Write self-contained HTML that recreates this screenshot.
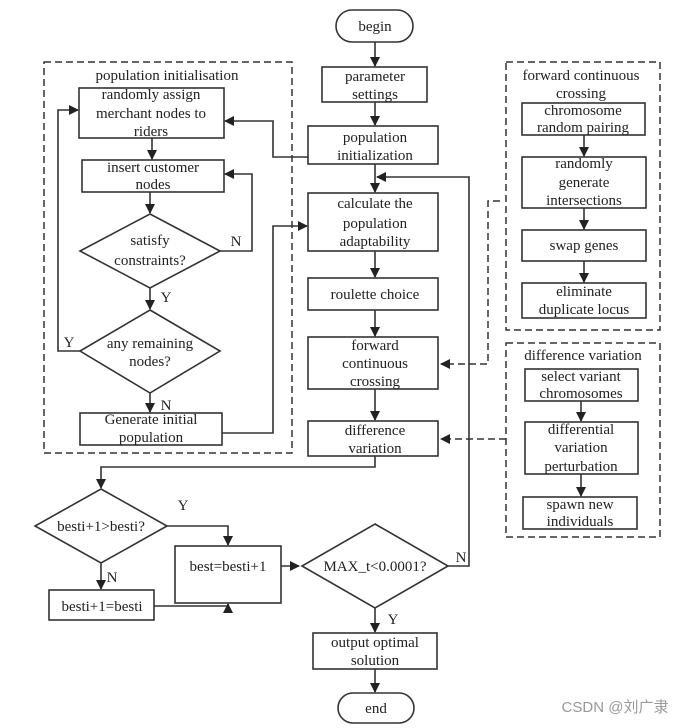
<!DOCTYPE html>
<html><head><meta charset="utf-8"><style>
html,body{margin:0;padding:0;background:#fff;}
svg{display:block;}
text{font-family:"Liberation Serif",serif;font-size:15px;fill:#222;text-anchor:middle;}
.b{fill:#fff;stroke:#333;stroke-width:1.6;}
.l{fill:none;stroke:#333;stroke-width:1.6;}
.d{fill:none;stroke:#333;stroke-width:1.5;stroke-dasharray:7,4;}
</style></head><body>
<svg width="699" height="728" viewBox="0 0 699 728">
<defs><marker id="a" markerWidth="10" markerHeight="10" refX="9" refY="5" orient="auto" markerUnits="userSpaceOnUse"><path d="M0,0 L10,5 L0,10 Z" fill="#222"/></marker></defs>

<!-- main column -->
<rect class="b" x="336" y="10" width="77" height="32" rx="16"/><text x="375" y="31">begin</text>
<rect class="b" x="322" y="67" width="105" height="35"/><text x="375" y="81">parameter</text><text x="375" y="99">settings</text>
<rect class="b" x="308" y="126" width="130" height="38"/><text x="375" y="142">population</text><text x="375" y="160">initialization</text>
<rect class="b" x="308" y="193" width="130" height="58"/><text x="375" y="208">calculate the</text><text x="375" y="228">population</text><text x="375" y="246">adaptability</text>
<rect class="b" x="308" y="278" width="130" height="32"/><text x="375" y="299">roulette choice</text>
<rect class="b" x="308" y="337" width="130" height="52"/><text x="375" y="350">forward</text><text x="375" y="368">continuous</text><text x="375" y="386">crossing</text>
<rect class="b" x="308" y="421" width="130" height="35"/><text x="375" y="435">difference</text><text x="375" y="453">variation</text>

<line class="l" x1="375" y1="42" x2="375" y2="66" marker-end="url(#a)"/>
<line class="l" x1="375" y1="102" x2="375" y2="125" marker-end="url(#a)"/>
<line class="l" x1="375" y1="164" x2="375" y2="192" marker-end="url(#a)"/>
<line class="l" x1="375" y1="251" x2="375" y2="277" marker-end="url(#a)"/>
<line class="l" x1="375" y1="310" x2="375" y2="336" marker-end="url(#a)"/>
<line class="l" x1="375" y1="389" x2="375" y2="420" marker-end="url(#a)"/>
<polyline class="l" points="448,566 469,566 469,177 377,177" marker-end="url(#a)"/>

<!-- left dashed box -->
<rect class="d" x="44" y="62" width="248" height="391"/>
<text x="167" y="80">population initialisation</text>
<rect class="b" x="79" y="88" width="145" height="50"/><text x="151" y="99">randomly assign</text><text x="151" y="118">merchant nodes to</text><text x="151" y="136">riders</text>
<rect class="b" x="82" y="160" width="142" height="32"/><text x="153" y="172">insert customer</text><text x="153" y="189">nodes</text>
<polygon class="b" points="150,214 220,251 150,288 80,251"/><text x="150" y="245">satisfy</text><text x="150" y="265">constraints?</text>
<polygon class="b" points="150,310 220,351 150,393 80,351"/><text x="150" y="348">any  remaining</text><text x="150" y="366">nodes?</text>
<rect class="b" x="80" y="413" width="142" height="32"/><text x="151" y="424">Generate initial</text><text x="151" y="442">population</text>
<line class="l" x1="152" y1="138" x2="152" y2="159" marker-end="url(#a)"/>
<line class="l" x1="150" y1="192" x2="150" y2="213" marker-end="url(#a)"/>
<line class="l" x1="150" y1="288" x2="150" y2="309" marker-end="url(#a)"/>
<line class="l" x1="150" y1="393" x2="150" y2="412" marker-end="url(#a)"/>
<polyline class="l" points="220,251 252,251 252,174 225,174" marker-end="url(#a)"/>
<polyline class="l" points="80,351 58,351 58,110 78,110" marker-end="url(#a)"/>
<polyline class="l" points="308,157 273,157 273,121 225,121" marker-end="url(#a)"/>
<polyline class="l" points="222,433 273,433 273,226 307,226" marker-end="url(#a)"/>
<text x="236" y="246">N</text><text x="166" y="302">Y</text><text x="69" y="347">Y</text><text x="166" y="410">N</text>

<!-- right dashed box 1 -->
<rect class="d" x="506" y="62" width="154" height="268"/>
<text x="581" y="80">forward continuous</text><text x="581" y="98">crossing</text>
<rect class="b" x="522" y="103" width="123" height="32"/><text x="583" y="115">chromosome</text><text x="583" y="132">random pairing</text>
<rect class="b" x="522" y="157" width="124" height="51"/><text x="584" y="168">randomly</text><text x="584" y="187">generate</text><text x="584" y="205">intersections</text>
<rect class="b" x="522" y="230" width="124" height="31"/><text x="584" y="250">swap genes</text>
<rect class="b" x="522" y="283" width="124" height="35"/><text x="584" y="296">eliminate</text><text x="584" y="314">duplicate locus</text>
<line class="l" x1="584" y1="135" x2="584" y2="156" marker-end="url(#a)"/>
<line class="l" x1="584" y1="208" x2="584" y2="229" marker-end="url(#a)"/>
<line class="l" x1="584" y1="261" x2="584" y2="282" marker-end="url(#a)"/>
<polyline class="d" points="500,201 488,201 488,364 441,364" marker-end="url(#a)"/>

<!-- right dashed box 2 -->
<rect class="d" x="506" y="343" width="154" height="194"/>
<text x="583" y="360">difference variation</text>
<rect class="b" x="525" y="369" width="113" height="32"/><text x="581" y="381">select variant</text><text x="581" y="398">chromosomes</text>
<rect class="b" x="525" y="422" width="113" height="52"/><text x="581" y="434">differential</text><text x="581" y="452">variation</text><text x="581" y="471">perturbation</text>
<rect class="b" x="523" y="497" width="114" height="32"/><text x="580" y="509">spawn new</text><text x="580" y="526">individuals</text>
<line class="l" x1="581" y1="401" x2="581" y2="421" marker-end="url(#a)"/>
<line class="l" x1="581" y1="474" x2="581" y2="496" marker-end="url(#a)"/>
<polyline class="d" points="506,439 441,439" marker-end="url(#a)"/>

<!-- bottom -->
<polyline class="l" points="375,456 375,467 101,467 101,488" marker-end="url(#a)"/>
<polygon class="b" points="101,489 167,526 101,563 35,526"/><text x="101" y="531">besti+1&gt;besti?</text>
<text x="183" y="510">Y</text>
<polyline class="l" points="167,526 228,526 228,545" marker-end="url(#a)"/>
<rect class="b" x="175" y="546" width="106" height="57"/><text x="228" y="571">best=besti+1</text>
<line class="l" x1="101" y1="563" x2="101" y2="589" marker-end="url(#a)"/>
<text x="112" y="582">N</text>
<rect class="b" x="49" y="590" width="105" height="30"/><text x="102" y="611">besti+1=besti</text>
<polyline class="l" points="154,606 228,606 228,604" />
<line class="l" x1="228" y1="606" x2="228" y2="604" marker-end="url(#a)"/>
<line class="l" x1="281" y1="566" x2="299" y2="566" marker-end="url(#a)"/>
<polygon class="b" points="375,524 448,566 375,608 302,566"/><text x="375" y="571">MAX_t&lt;0.0001?</text>
<text x="461" y="562">N</text>
<line class="l" x1="375" y1="608" x2="375" y2="632" marker-end="url(#a)"/>
<text x="393" y="624">Y</text>
<rect class="b" x="313" y="633" width="124" height="36"/><text x="375" y="647">output optimal</text><text x="375" y="665">solution</text>
<line class="l" x1="375" y1="669" x2="375" y2="692" marker-end="url(#a)"/>
<rect class="b" x="338" y="693" width="76" height="30" rx="15"/><text x="376" y="713">end</text>
<text x="615" y="712" style="font-family:'Liberation Sans','Noto Sans CJK SC',sans-serif;font-size:15px;fill:#999">CSDN @刘广隶</text>
</svg>
</body></html>
